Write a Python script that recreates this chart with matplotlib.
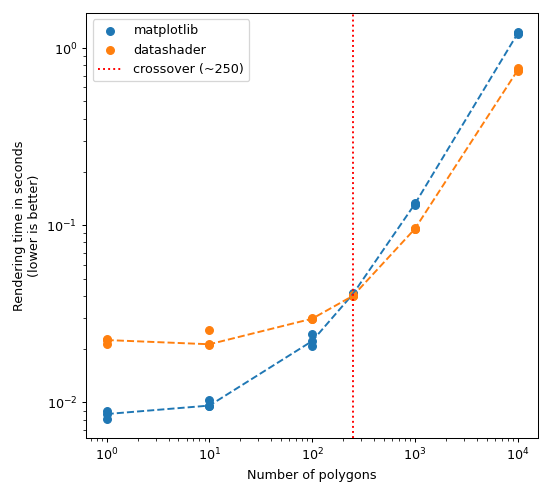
import numpy as np
import matplotlib
matplotlib.use("Agg")
import matplotlib.pyplot as plt

# number of polygons, three timing runs each
n_polygons = [1, 10, 100, 250, 1000, 10000]
mpl_times = [
    [0.0090, 0.0086, 0.0081],
    [0.0103, 0.0096, 0.0095],
    [0.0242, 0.0222, 0.0207],
    [0.0413, 0.0410, 0.0408],
    [0.133, 0.132, 0.131],
    [1.23, 1.21, 1.20],
]
ds_times = [
    [0.0227, 0.0225, 0.0215],
    [0.0258, 0.0213, 0.0212],
    [0.0298, 0.0297, 0.0296],
    [0.0404, 0.0400, 0.0398],
    [0.0960, 0.0955, 0.0950],
    [0.77, 0.75, 0.74],
]
crossover = 250

fig = plt.figure(figsize=(6, 496 / 92), dpi=92)
ax = fig.add_axes([0.156, 0.117, 0.819, 0.857])

for times, name, color in [(mpl_times, "matplotlib", "C0"), (ds_times, "datashader", "C1")]:
    xs = np.repeat(n_polygons, 3)
    ys = np.array(times).ravel()
    ax.scatter(xs, ys, color=color, label=name)
    med = np.median(np.array(times), axis=1)
    ax.plot(n_polygons, med, color=color, linestyle="--")

ax.axvline(crossover, color="red", linestyle=":", label="crossover (~250)")
ax.set_xscale("log")
ax.set_yscale("log")
ax.set_xlabel("Number of polygons")
ax.set_ylabel("Rendering time in seconds\n(lower is better)")
ax.legend(loc="upper left")

fig.savefig("out.png")
